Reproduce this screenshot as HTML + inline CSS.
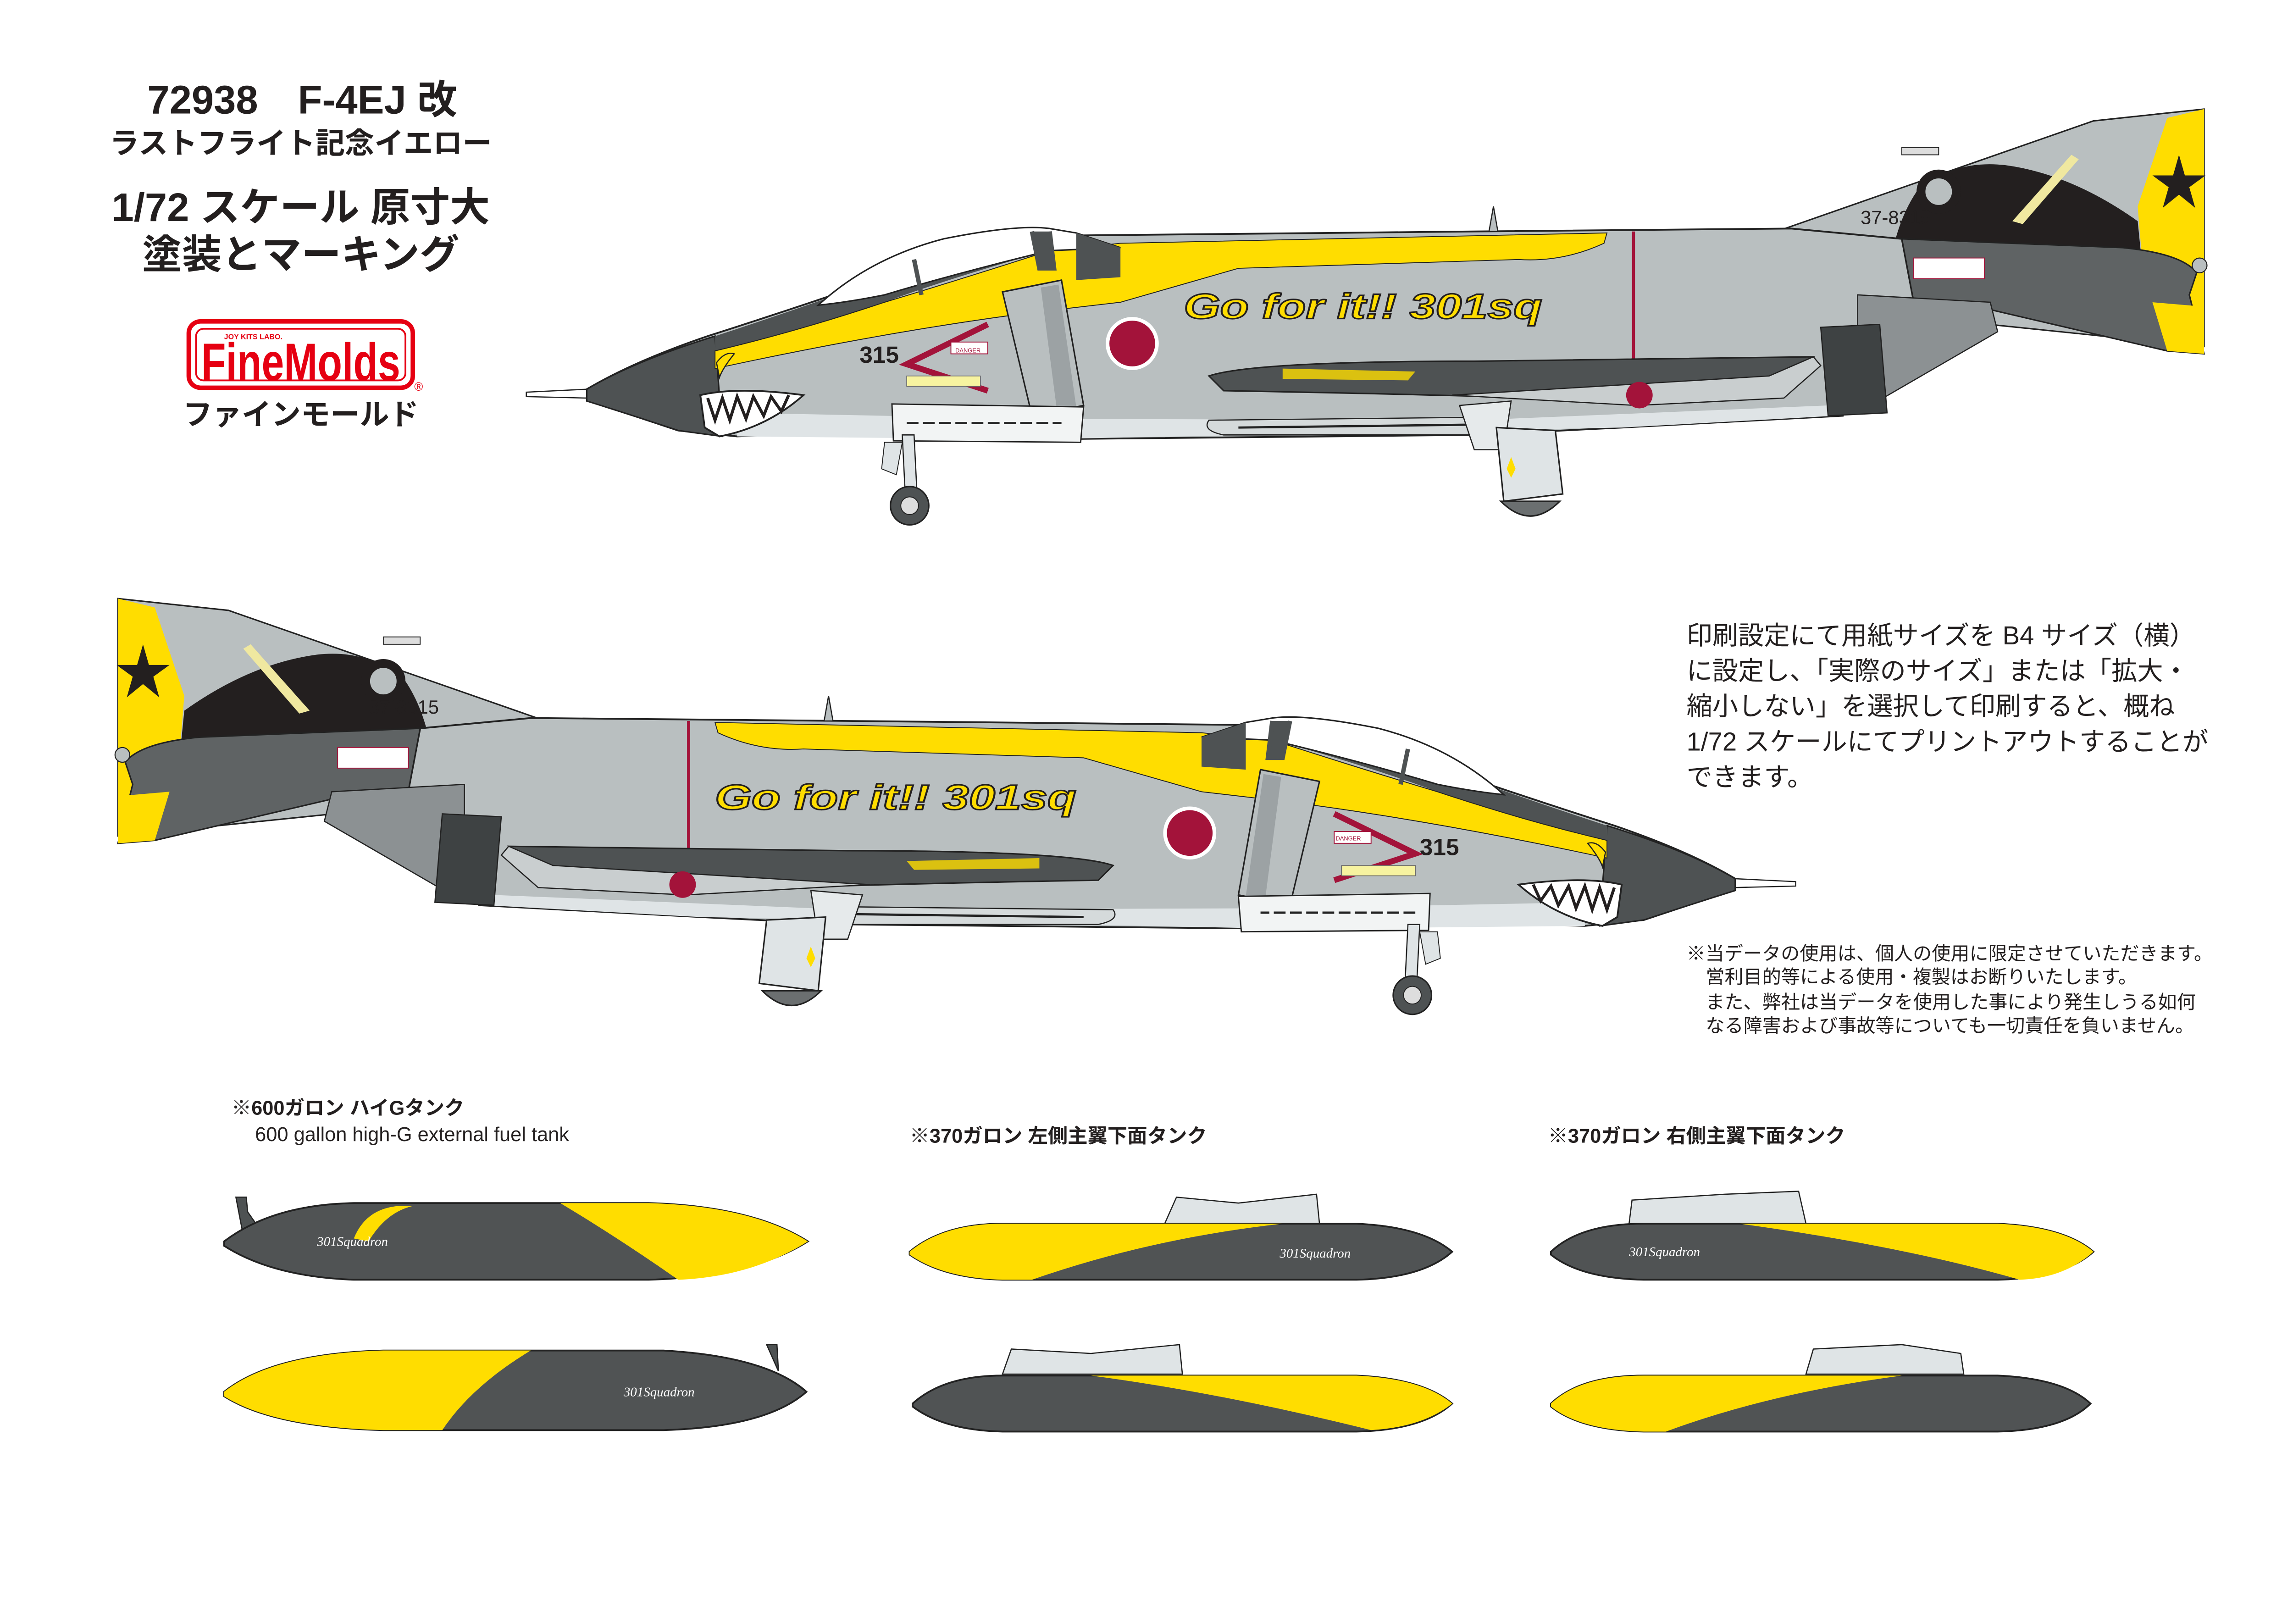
<!DOCTYPE html>
<html><head><meta charset="utf-8"><style>
html,body{margin:0;padding:0;background:#fff;}
svg{display:block;}
.jp{font-family:"Liberation Sans","Noto Sans CJK JP",sans-serif;}
</style></head><body>
<svg width="5015" height="3541" viewBox="0 0 1560 1101.5" xmlns="http://www.w3.org/2000/svg" class="jp">
<defs>
<g id="ac">
  <path d="M357,266 L398,264 L398,270 L357,269 Z" fill="#fff" stroke="#222" stroke-width="0.8"/>
  <!-- fin -->
  <path d="M1205,157 L1420,82 L1495,74 L1495,235 L1300,215 L1260,160 Z" fill="#b9bfc0" stroke="#222" stroke-width="1"/>
  <path d="M1470,80 L1495,74 L1495,230 L1455,200 L1450,140 Z" fill="#ffdd00"/>
  <path d="M1300,130 Q1325,108 1360,112 Q1405,118 1450,150 L1455,200 L1330,190 L1285,165 Q1290,145 1300,130 Z" fill="#231f1f"/>
  <path d="M1365,150 L1405,105 L1410,108 L1372,152 Z" fill="#f0e8a0"/>
  <circle cx="1315" cy="130" r="12" fill="#b9bfc0" stroke="#231f1f" stroke-width="6"/>
  <path d="M1478,105 l4,14 l14,0 l-11,8 l4,14 l-11,-9 l-11,9 l4,-14 l-11,-8 l14,0 Z" fill="#231f1f"/>
  <!-- main body -->
  <path d="M398,264 Q430,245 480,228 Q530,212 580,195 L600,188 Q640,170 700,160 L1000,157 L1215,155 L1290,162 L1300,215 L1260,222 L1250,282 L1100,290 L1000,295 L700,298 L600,292 L500,296 L460,292 L400,272 Z" fill="#b9bfc0" stroke="#222" stroke-width="1.2"/>
  <path d="M500,280 L700,284 L1000,285 L1240,275 L1245,282 L1100,290 L700,298 L500,296 Z" fill="#dfe4e6"/>
  <path d="M398,264 Q430,245 485,228 L490,296 L460,292 Q430,282 398,272 Z" fill="#4e5253" stroke="#222" stroke-width="1"/>
  <path d="M485,228 Q540,210 590,192 Q640,178 700,162 L710,170 Q640,190 600,205 Q540,225 485,238 Z" fill="#4e5253"/>
  <path d="M485,238 Q540,225 600,205 Q650,190 712,170 L760,165 L1090,158 L1088,165 Q1060,178 1030,176 L840,182 L760,205 L700,212 Q600,225 485,250 Z" fill="#ffdd00" stroke="#222" stroke-width="0.6"/>
  <path d="M555,207 Q590,175 640,162 Q690,152 712,155 L730,158 L760,168 L712,170 Q650,185 600,200 Q575,205 555,207 Z" fill="#fff" stroke="#222" stroke-width="1"/>
  <path d="M620,176 L625,200 M700,157 L705,182 L715,182 L712,157" fill="#4e5253" stroke="#4e5253" stroke-width="3"/>
  <path d="M730,158 L760,168 L760,188 L730,190 Z" fill="#4e5253"/>
  <path d="M1010,157 L1013,140 L1016,157 Z" fill="#b9bfc0" stroke="#222" stroke-width="0.8"/>
  <path d="M680,198 L720,190 L735,275 L700,282 Z" fill="#b9bfc0" stroke="#222" stroke-width="1"/>
  <path d="M706,195 L718,193 L730,276 L717,279 Z" fill="#9ca2a4"/>
  <path d="M670,220 L615,247 L670,265" fill="none" stroke="#a3133a" stroke-width="4"/>
  <rect x="645" y="232" width="25" height="8" fill="#fff" stroke="#a3133a" stroke-width="0.6"/>
  <rect x="615" y="255" width="50" height="7" fill="#f7f3a0" stroke="#666" stroke-width="0.5"/>
  <circle cx="768" cy="233" r="18" fill="#fff"/>
  <circle cx="768" cy="233" r="15.5" fill="#a3133a"/>
  <line x1="1108" y1="157" x2="1108" y2="245" stroke="#a3133a" stroke-width="2"/>
  <path d="M1290,162 L1440,168 Q1480,172 1490,185 L1485,200 L1495,240 L1470,238 L1350,210 L1300,215 Z" fill="#5f6364" stroke="#222" stroke-width="1"/>
  <path d="M1460,205 L1495,208 L1495,240 L1470,238 Z" fill="#ffdd00"/>
  <circle cx="1492" cy="180" r="5" fill="#b9bfc0" stroke="#222" stroke-width="0.7"/>
  <rect x="1290" y="100" width="25" height="5" fill="#ddd" stroke="#222" stroke-width="0.6"/>
  <path d="M1260,200 L1350,205 L1355,225 L1260,280 Z" fill="#8c9193" stroke="#222" stroke-width="0.8"/>
  <path d="M1235,222 L1275,220 L1280,280 L1240,282 Z" fill="#3e4243" stroke="#222" stroke-width="0.8"/>
  <rect x="1298" y="175" width="48" height="14" fill="#fff" stroke="#a3133a" stroke-width="0.6"/>
  <path d="M820,255 Q850,245 1000,245 L1230,242 L1205,265 L1100,272 Q1000,268 830,265 Z" fill="#4e5253" stroke="#222" stroke-width="1"/>
  <path d="M985,268 L1200,255 L1230,242 L1235,248 L1210,270 L1110,275 Z" fill="#c9cecf" stroke="#222" stroke-width="0.8"/>
  <circle cx="1112" cy="268" r="9" fill="#a3133a"/>
  <path d="M870,250 L960,252 L955,258 L870,257 Z" fill="#ffdd00" opacity="0.8"/>
  <path d="M605,274 L735,276 L733,300 L606,299 Z" fill="#f2f4f4" stroke="#222" stroke-width="0.9"/>
  <path d="M615,287 L720,287" stroke="#222" stroke-width="1.5" stroke-dasharray="8 3"/>
  <path d="M820,285 L1005,283 L1000,295 L830,295 Q815,292 820,285 Z" fill="#d5dadb" stroke="#222" stroke-width="0.8"/>
  <path d="M840,290 L1000,288" stroke="#222" stroke-width="1.5"/>
  <path d="M990,275 L1025,272 L1020,305 L1000,305 Z" fill="#e6eaeb" stroke="#222" stroke-width="0.8"/>
  <path d="M475,268 Q500,262 545,268 Q520,290 488,296 L478,290 Z" fill="#fff" stroke="#222" stroke-width="1.2"/>
  <path d="M480,270 L485,285 L490,270 L495,285 L500,269 L506,284 L511,269 L518,282 L523,269 L530,279 L535,268" fill="none" stroke="#231f1f" stroke-width="2"/>
  <path d="M486,246 Q492,238 498,240 Q490,250 488,256 Z" fill="#ffdd00" stroke="#222" stroke-width="0.8"/>
  <path d="M612,295 L620,295 L622,335 L614,335 Z" fill="#dfe4e6" stroke="#222" stroke-width="0.8"/>
  <path d="M600,300 L612,300 L608,322 L598,318 Z" fill="#dfe4e6" stroke="#222" stroke-width="0.6"/>
  <circle cx="617" cy="343" r="13" fill="#4e5253" stroke="#222" stroke-width="1"/>
  <circle cx="617" cy="343" r="6" fill="#ddd" stroke="#222" stroke-width="0.6"/>
  <path d="M1015,290 L1055,292 L1060,335 L1020,340 Z" fill="#dfe4e6" stroke="#222" stroke-width="1"/>
  <path d="M1018,340 Q1038,360 1058,340 Z" fill="#6b6f70" stroke="#222" stroke-width="1"/>
  <path d="M1025,310 l3,8 l-3,6 l-3,-6 Z" fill="#ffdd00"/>
</g>
</defs>

<text x="205" y="77" text-anchor="middle" font-size="27" font-weight="bold" fill="#231f1f">72938　F-4EJ 改</text>
<text x="204" y="104" text-anchor="middle" font-size="20" font-weight="bold" fill="#231f1f">ラストフライト記念イエロー</text>
<text x="204" y="150" text-anchor="middle" font-size="27" font-weight="bold" fill="#231f1f">1/72 スケール 原寸大</text>
<text x="204" y="182" text-anchor="middle" font-size="27" font-weight="bold" fill="#231f1f">塗装とマーキング</text>
<rect x="128" y="218" width="152" height="45" rx="8" fill="#fff" stroke="#e60012" stroke-width="3"/>
<rect x="133" y="223" width="142" height="35" rx="5" fill="none" stroke="#e60012" stroke-width="1.2"/>
<text x="204" y="258" text-anchor="middle" font-size="36" font-weight="bold" fill="#e60012" textLength="135" lengthAdjust="spacingAndGlyphs" font-family="Liberation Sans Narrow, Liberation Sans, sans-serif">FineMolds</text>
<text x="152" y="230" font-size="5" font-weight="bold" fill="#e60012">JOY KITS LABO.</text>
<text x="281" y="265" font-size="8" fill="#e60012">®</text>
<text x="204" y="288" text-anchor="middle" font-size="20" font-weight="bold" fill="#231f1f">ファインモールド</text>

<use href="#ac"/>
<use href="#ac" transform="translate(1575,332) scale(-1,1)"/>

<text x="803" y="216" font-size="24" font-style="italic" font-weight="bold" fill="#ffdd00" stroke="#231f1f" stroke-width="1" textLength="243" lengthAdjust="spacingAndGlyphs" font-family="Liberation Sans, sans-serif">Go for it!! 301sq</text>
<text x="485" y="549" font-size="24" font-style="italic" font-weight="bold" fill="#ffdd00" stroke="#231f1f" stroke-width="1" textLength="245" lengthAdjust="spacingAndGlyphs" font-family="Liberation Sans, sans-serif">Go for it!! 301sq</text>
<text x="583" y="246" font-size="16" font-weight="bold" fill="#231f1f">315</text>
<text x="963" y="580" font-size="16" font-weight="bold" fill="#231f1f">315</text>
<text x="1262" y="152" font-size="13" fill="#231f1f">37-8315</text>
<text x="250" y="484" font-size="13" fill="#231f1f">37-8315</text>
<text x="648" y="239" font-size="4" fill="#a3133a">DANGER</text>
<text x="906" y="570" font-size="4" fill="#a3133a">DANGER</text>

<g font-size="17.5" fill="#231f1f">
<text x="1144" y="437">印刷設定にて用紙サイズを B4 サイズ（横）</text>
<text x="1144" y="461">に設定し、「実際のサイズ」または「拡大・</text>
<text x="1144" y="485">縮小しない」を選択して印刷すると、概ね</text>
<text x="1144" y="509">1/72 スケールにてプリントアウトすることが</text>
<text x="1144" y="533">できます。</text>
</g>
<g font-size="12.8" fill="#231f1f">
<text x="1144" y="651">※当データの使用は、個人の使用に限定させていただきます。</text>
<text x="1157" y="667">営利目的等による使用・複製はお断りいたします。</text>
<text x="1157" y="684">また、弊社は当データを使用した事により発生しうる如何</text>
<text x="1157" y="700">なる障害および事故等についても一切責任を負いません。</text>
</g>

<text x="157" y="756" font-size="13.5" font-weight="bold" fill="#231f1f">※600ガロン ハイGタンク</text>
<text x="173" y="774" font-size="13.5" fill="#231f1f">600 gallon high-G external fuel tank</text>
<text x="617" y="775" font-size="13.5" font-weight="bold" fill="#231f1f">※370ガロン 左側主翼下面タンク</text>
<text x="1050" y="775" font-size="13.5" font-weight="bold" fill="#231f1f">※370ガロン 右側主翼下面タンク</text>

<path d="M160,812 L167,812 L168,822 L175,832 L165,838 Z" fill="#4e5253" stroke="#222" stroke-width="0.8"/>
<path d="M152,842 Q185,817 240,816 L440,816 Q510,818 548,842 Q510,866 440,868 L240,868 Q185,866 152,845 Z" fill="#505354" stroke="#222" stroke-width="1.2"/>
<path d="M380,816 L440,816 Q510,818 548,842 Q510,866 460,868 Q420,840 380,816 Z" fill="#ffdd00"/>
<path d="M240,840 Q248,820 270,818 L280,818 Q262,822 250,842 Z" fill="#ffdd00"/>
<text x="215" y="845" font-size="9" font-style="italic" fill="#fff" font-family="Liberation Serif, serif">301Squadron</text>
<path d="M520,912 L527,912 L528,930 Z" fill="#4e5253" stroke="#222" stroke-width="0.8"/>
<path d="M152,944 Q185,918 260,916 L450,916 Q520,920 547,944 Q520,968 450,970 L260,970 Q185,968 152,947 Z" fill="#505354" stroke="#222" stroke-width="1.2"/>
<path d="M152,944 Q185,918 260,916 L360,916 Q320,940 300,970 L260,970 Q185,968 152,947 Z" fill="#ffdd00"/>
<text x="423" y="947" font-size="9" font-style="italic" fill="#fff" font-family="Liberation Serif, serif">301Squadron</text>

<path d="M790,830 L798,812 L840,816 L893,810 L895,830 Z" fill="#dfe4e6" stroke="#222" stroke-width="0.8"/>
<path d="M617,849 Q640,830 680,830 L920,830 Q965,832 985,849 Q965,867 920,868 L680,868 Q640,867 617,851 Z" fill="#505354" stroke="#222" stroke-width="1.2"/>
<path d="M617,849 Q640,830 680,830 L870,830 Q780,840 700,868 L680,868 Q640,867 617,851 Z" fill="#ffdd00"/>
<text x="868" y="853" font-size="9" font-style="italic" fill="#fff" font-family="Liberation Serif, serif">301Squadron</text>
<path d="M680,932 L686,915 L740,918 L800,912 L802,932 Z" fill="#dfe4e6" stroke="#222" stroke-width="0.8"/>
<path d="M619,952 Q640,933 680,933 L920,933 Q965,935 985,952 Q965,970 920,971 L680,971 Q640,970 619,954 Z" fill="#505354" stroke="#222" stroke-width="1.2"/>
<path d="M740,933 L920,933 Q965,935 985,952 Q965,968 930,970 Q830,945 740,933 Z" fill="#ffdd00"/>

<path d="M1105,830 L1107,814 L1170,810 L1220,808 L1225,830 Z" fill="#dfe4e6" stroke="#222" stroke-width="0.8"/>
<path d="M1052,849 Q1072,830 1115,830 L1355,830 Q1400,832 1420,849 Q1400,867 1355,868 L1115,868 Q1072,867 1052,851 Z" fill="#505354" stroke="#222" stroke-width="1.2"/>
<path d="M1180,830 L1355,830 Q1400,832 1420,849 Q1400,867 1370,868 Q1290,845 1180,830 Z" fill="#ffdd00"/>
<text x="1105" y="852" font-size="9" font-style="italic" fill="#fff" font-family="Liberation Serif, serif">301Squadron</text>
<path d="M1225,932 L1230,915 L1290,912 L1330,918 L1332,932 Z" fill="#dfe4e6" stroke="#222" stroke-width="0.8"/>
<path d="M1052,952 Q1072,933 1115,933 L1355,933 Q1400,935 1418,952 Q1400,970 1355,971 L1115,971 Q1072,970 1052,954 Z" fill="#505354" stroke="#222" stroke-width="1.2"/>
<path d="M1052,952 Q1072,933 1115,933 L1290,933 Q1200,945 1130,971 L1115,971 Q1072,970 1052,954 Z" fill="#ffdd00"/>
</svg>
</body></html>
